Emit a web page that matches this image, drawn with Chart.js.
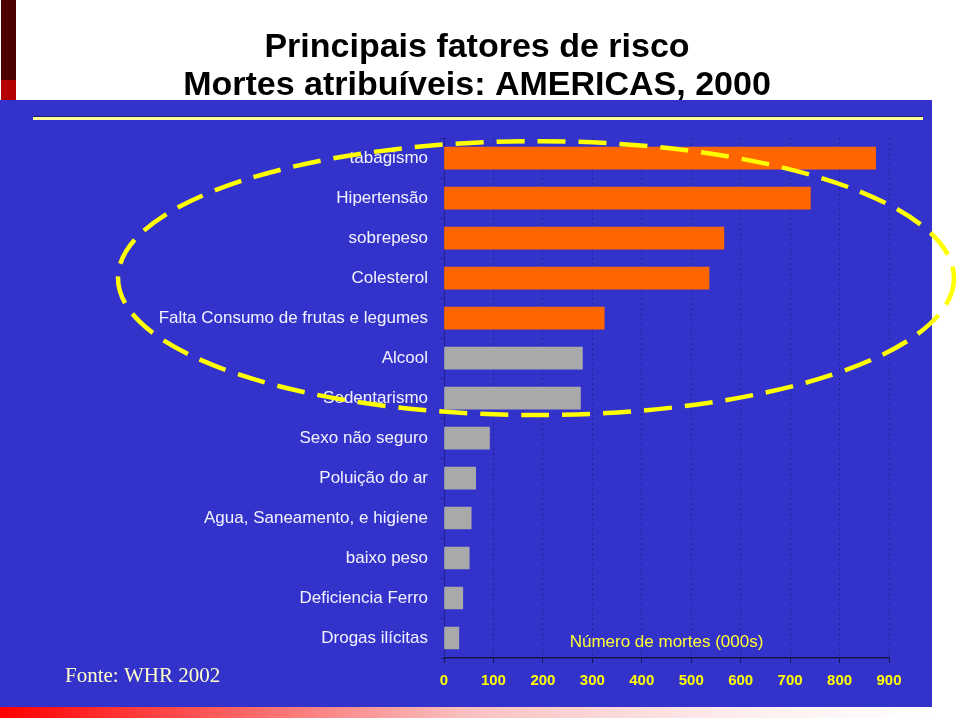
<!DOCTYPE html>
<html lang="pt">
<head>
<meta charset="utf-8">
<title>Principais fatores de risco</title>
<script src="https://cdn.jsdelivr.net/npm/chart.js@4.4.1/dist/chart.umd.min.js"></script>
<style>
  html, body { margin: 0; padding: 0; background: #fff; overflow: hidden; }
  #wrap { position: relative; width: 960px; height: 720px; }
</style>
</head>
<body>
<div id="wrap"><canvas id="riskChart"></canvas></div>
<script>
// chart data
const titleLines = ['Principais fatores de risco', 'Mortes atribuíveis: AMERICAS, 2000'];
const riskFactors = [
    'tabagismo', 'Hipertensão', 'sobrepeso', 'Colesterol',
    'Falta Consumo de frutas e legumes', 'Alcool', 'Sedentarismo',
    'Sexo não seguro', 'Poluição do ar', 'Agua, Saneamento, e higiene',
    'baixo peso', 'Deficiencia Ferro', 'Drogas ilícitas'
];
const deaths = [873, 741, 566, 536, 324, 280, 276, 92, 64, 55, 51, 38, 30];
const xTicks = [0, 100, 200, 300, 400, 500, 600, 700, 800, 900];
const orangeCount = 5;   // first bars drawn in orange
const circledCount = 7;  // bars inside the dashed yellow ring
const axisTitle = 'Número de mortes (000s)';
const sourceNote = 'Fonte: WHR 2002';

Chart.defaults.font.family = "'Liberation Sans', Arial, sans-serif";

// slide furniture: blue panel, red marks, yellow rule, gradient foot
const slideBackground = {
    id: 'slideBackground',
    beforeDraw(chart) {
        const ctx = chart.ctx;
        ctx.save();
        ctx.fillStyle = '#ffffff';
        ctx.fillRect(0, 0, chart.width, chart.height);
        ctx.fillStyle = '#4c0000';
        ctx.fillRect(1, 0, 15, 80);
        ctx.fillStyle = '#b40000';
        ctx.fillRect(1, 80, 15, 20);
        ctx.fillStyle = '#3333cc';
        ctx.fillRect(0, 100, 932, 607);
        ctx.fillStyle = '#1e1e70';
        ctx.fillRect(33, 116, 890, 4);
        ctx.fillStyle = '#ffff99';
        ctx.fillRect(33, 117, 890, 3);
        const g = ctx.createLinearGradient(0, 0, 930, 0);
        g.addColorStop(0, '#ff0000');
        g.addColorStop(0.12, '#ff3030');
        g.addColorStop(0.5, '#f9c0c0');
        g.addColorStop(0.8, '#fdeeee');
        g.addColorStop(1, '#ffffff');
        ctx.fillStyle = g;
        ctx.fillRect(0, 707, 930, 11);
        ctx.restore();
    }
};

const slideNotes = {
    id: 'slideNotes',
    afterDatasetsDraw(chart) {
        const ctx = chart.ctx;
        const x = chart.scales.x;
        ctx.save();
        ctx.fillStyle = '#ffff33';
        ctx.font = "17px 'Liberation Sans', Arial, sans-serif";
        ctx.textAlign = 'center';
        ctx.textBaseline = 'middle';
        ctx.fillText(axisTitle, (x.left + x.right) / 2, chart.chartArea.bottom - 16);
        ctx.fillStyle = '#ffffcc';
        ctx.font = "21px 'Liberation Serif', 'Times New Roman', serif";
        ctx.textAlign = 'left';
        ctx.textBaseline = 'alphabetic';
        ctx.fillText(sourceNote, 65, 682);
        ctx.restore();
    },
    afterDraw(chart) {
        // dashed ring round the leading factors
        const ctx = chart.ctx;
        const y = chart.scales.y;
        const top = y.getPixelForValue(0);
        const bottom = y.getPixelForValue(circledCount - 1);
        ctx.save();
        ctx.strokeStyle = '#ffff00';
        ctx.lineWidth = 4.5;
        ctx.setLineDash([28, 13]);
        ctx.beginPath();
        ctx.ellipse(536, (top + bottom) / 2, 418, (bottom - top) / 2 + 17, 0, 0, Math.PI * 2);
        ctx.stroke();
        ctx.restore();
    }
};

var ctx = document.getElementById('riskChart').getContext('2d');
var riskChart = new Chart(ctx, {
    type: 'bar',
    data: {
        labels: riskFactors,
        datasets: [{
            data: deaths,
            backgroundColor: deaths.map((v, i) => i < orangeCount ? '#ff6600' : '#a9a9a9'),
            borderWidth: 0,
            barThickness: 22
        }]
    },
    options: {
        indexAxis: 'y',
        responsive: true,
        maintainAspectRatio: false,
        animation: false,
        layout: {
            padding: { left: 65, right: 71, top: 0, bottom: 0 }
        },
        plugins: {
            legend: { display: false },
            tooltip: { enabled: false },
            title: {
                display: true,
                text: titleLines,
                color: '#000000',
                font: { size: 34, weight: 'bold', lineHeight: 1.12 },
                padding: { top: 29, bottom: 33 }
            }
        },
        scales: {
            x: {
                min: xTicks[0],
                max: xTicks[xTicks.length - 1],
                afterFit: s => { s.height = 62; },
                ticks: {
                    stepSize: xTicks[1] - xTicks[0],
                    color: '#ffff00',
                    font: { size: 15, weight: 'bold' },
                    padding: 9
                },
                grid: {
                    color: 'rgba(20, 20, 110, 0.55)',
                    tickColor: '#15154a',
                    tickLength: 5
                },
                border: {
                    color: '#15154a',
                    width: 1.5,
                    dash: [2, 3]
                }
            },
            y: {
                afterFit: s => { s.width = 379; },
                ticks: {
                    color: '#f2f2ff',
                    font: { size: 17 },
                    padding: 12
                },
                grid: {
                    drawOnChartArea: false,
                    tickLength: 4,
                    color: 'rgba(20, 20, 110, 0.5)'
                },
                border: {
                    color: 'rgba(20, 20, 110, 0.5)'
                }
            }
        }
    },
    plugins: [slideBackground, slideNotes]
});
</script>
</body>
</html>
